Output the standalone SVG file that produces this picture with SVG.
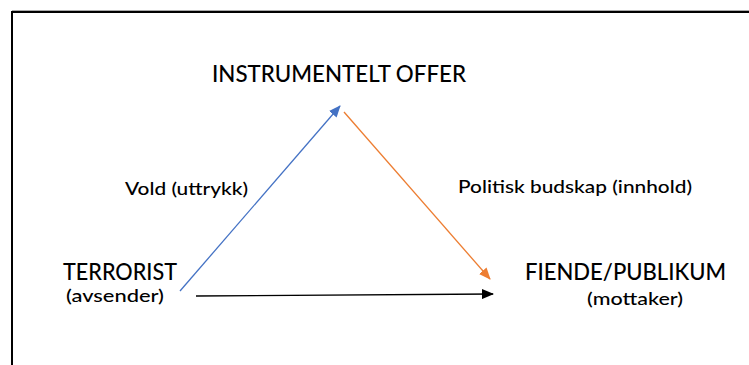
<svg xmlns="http://www.w3.org/2000/svg" width="749" height="365" viewBox="0 0 749 365">
<style>
text{font-family:Lato,"Open Sans","Liberation Sans",sans-serif;fill:#000;font-weight:500}
.big{font-size:23px}
.small{font-size:18px}
.c{stroke-width:1.3;fill:none}
</style>
<defs>
<marker id="mb" markerWidth="12" markerHeight="10" refX="11" refY="5" orient="auto" markerUnits="userSpaceOnUse"><path d="M0,0 L12,5 L0,10 z" fill="#4472C4"/></marker>
<marker id="mo" markerWidth="12" markerHeight="10" refX="11" refY="5" orient="auto" markerUnits="userSpaceOnUse"><path d="M0,0 L12,5 L0,10 z" fill="#ED7D31"/></marker>
<marker id="mk" markerWidth="12" markerHeight="10" refX="11" refY="5" orient="auto" markerUnits="userSpaceOnUse"><path d="M0,0 L12,5 L0,10 z" fill="#000"/></marker>
</defs>
<rect width="749" height="365" fill="#fff"/>
<line x1="12" y1="10.5" x2="749" y2="10.5" stroke="#aaa" stroke-width="1"/>
<path d="M12,365 V12 H749" fill="none" stroke="#000" stroke-width="2"/>
<g id="connectors">
<line class="c" x1="180" y1="291" x2="340" y2="106" stroke="#4472C4" marker-end="url(#mb)"/>
<line class="c" x1="344" y1="112" x2="490" y2="279" stroke="#ED7D31" marker-end="url(#mo)"/>
<line class="c" x1="196" y1="296" x2="493" y2="294" stroke="#000" marker-end="url(#mk)"/>
</g>
<g id="offer"><text class="big" x="212" y="82" textLength="254" lengthAdjust="spacingAndGlyphs">INSTRUMENTELT OFFER</text></g>
<g id="terrorist">
<text class="big" x="63" y="280" textLength="114" lengthAdjust="spacingAndGlyphs">TERRORIST</text>
<text class="small" x="66" y="302" textLength="98" lengthAdjust="spacingAndGlyphs">(avsender)</text>
</g>
<g id="fiende">
<text class="big" x="525" y="280" textLength="201" lengthAdjust="spacingAndGlyphs">FIENDE/PUBLIKUM</text>
<text class="small" x="587" y="305" textLength="96" lengthAdjust="spacingAndGlyphs">(mottaker)</text>
</g>
<g id="labels">
<text class="small" x="125" y="195" textLength="123" lengthAdjust="spacingAndGlyphs">Vold (uttrykk)</text>
<text class="small" x="458" y="193" textLength="234" lengthAdjust="spacingAndGlyphs">Politisk budskap (innhold)</text>
</g>
</svg>
